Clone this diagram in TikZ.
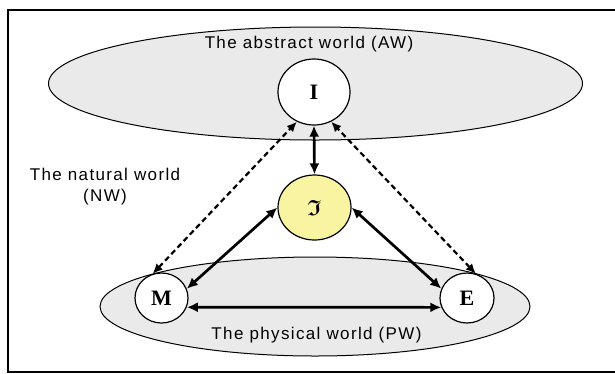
\documentclass[tikz,border=0pt]{standalone}
\usepackage{amsmath,amssymb}
\usepackage{fontspec}
\setmainfont{Liberation Serif}
\newfontfamily\labfont[LetterSpace=8]{Liberation Sans}
\usetikzlibrary{arrows.meta,shapes.geometric}
\definecolor{worldgray}{RGB}{234,234,234}
\definecolor{ideayellow}{RGB}{248,244,162}
\tikzset{
  world/.style={draw=black, line width=1pt, fill=worldgray, ellipse, inner sep=0pt},
  entity/.style={draw=black, line width=1.2pt, fill=white, ellipse, inner sep=0pt,
     font=\fontsize{22}{24}\selectfont\bfseries},
  lbl/.style={font=\labfont\fontsize{17}{21}\selectfont, inner sep=0pt},
  solidlink/.style={line width=2.7pt, {Latex[length=11pt,width=10pt]}-{Latex[length=11pt,width=10pt]}},
  dashlink/.style={line width=2.2pt, dash pattern=on 5.5pt off 3.5pt,
     {Latex[length=10pt,width=9pt]}-{Latex[length=10pt,width=9pt]}}
}
\begin{document}
\begin{tikzpicture}[x=1pt,y=-1pt]
\useasboundingbox (0,0) rectangle (615,373);
\draw[line width=1.5pt] (615,10) -- (8,10) -- (8,372) -- (615,372);
% worlds
\node[world, minimum width=534pt, minimum height=113pt] (AW) at (315.5,83.5) {};
\node[world, minimum width=430pt, minimum height=99pt] (PW) at (315,306.5) {};
% labels
\node[lbl] (AWl) at (309,44) {The abstract world (AW)};
\node[lbl] (PWl) at (316.5,335) {The physical world (PW)};
\node[lbl, align=center] (NWl) at (105,186.5) {The natural world\\(NW)};
% entities
\node[entity, minimum width=72pt, minimum height=66pt] (I) at (314,92) {I};
\node[entity, fill=ideayellow, minimum width=73pt, minimum height=65pt, font=\fontsize{22}{24}\selectfont] (J) at (314.5,207.5) {$\boldsymbol{\mathfrak{I}}$};
\node[entity, minimum width=53pt, minimum height=50pt] (M) at (161.5,298) {M};
\node[entity, minimum width=54pt, minimum height=50pt] (E) at (467,298) {E};
% links
\draw[solidlink] (I.south) -- (J.north);
\draw[solidlink] (J.west) -- (M.20);
\draw[solidlink] (J.east) -- (E.160);
\draw[solidlink] (M.-20) -- (E.200);
\draw[dashlink] (M.110) -- (I.-120);
\draw[dashlink] (E.70) -- (I.-60);
\end{tikzpicture}
\end{document}
